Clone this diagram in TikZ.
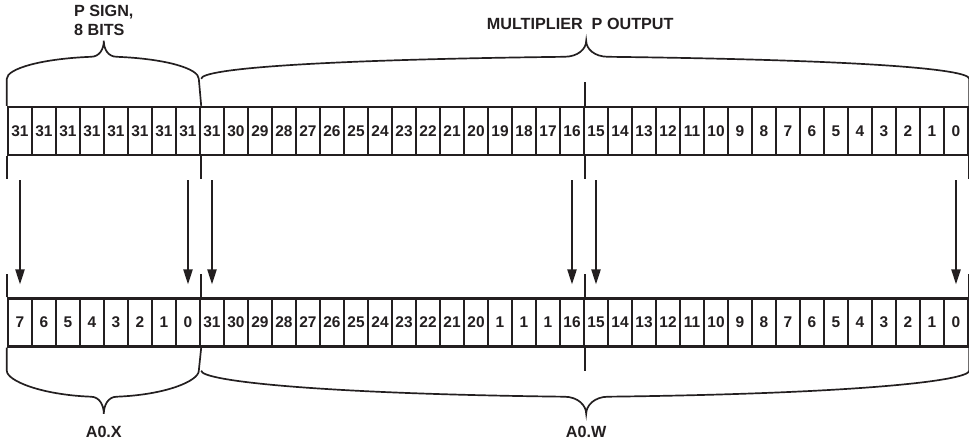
\documentclass[tikz,border=0pt]{standalone}
\usepackage{fontspec}
\setmainfont{Liberation Sans}
\usetikzlibrary{arrows.meta,positioning}

\definecolor{ink}{RGB}{35,31,32}

\tikzset{
  bitcell/.style={draw=ink, line width=1.7pt, minimum width=0.6cm, minimum height=1.2cm,
    inner sep=0pt, text=ink, font=\fontsize{11}{13}\selectfont\bfseries},
  brc/.style={draw=ink, line width=1.2pt},
  tick/.style={draw=ink, line width=1.7pt},
  arr/.style={draw=ink, line width=1.4pt, -{Triangle[length=0.375cm,width=0.23cm]},
    shorten <=0.6cm, shorten >=0.325cm},
  lbl/.style={inner sep=0pt, align=left, text=ink, font=\fontsize{11.5}{13.5}\selectfont\bfseries},
}

\begin{document}
\begin{tikzpicture}[x=0.025cm, y=0.025cm]
\path[fill=white, use as bounding box] (0,0) rectangle (969,-440);

% multiplier P, sign extended
\foreach \v [count=\i] in {31,31,31,31,31,31,31,31,31,30,29,28,27,26,25,24,23,22,21,20,19,18,17,16,15,14,13,12,11,10,9,8,7,6,5,4,3,2,1,0}
  \node (t\i) at (24*\i-4, -131) [bitcell] {\v};

% accumulator A0 (X and W)
\foreach \v [count=\i] in {7,6,5,4,3,2,1,0,31,30,29,28,27,26,25,24,23,22,21,20,1,1,1,16,15,14,13,12,11,10,9,8,7,6,5,4,3,2,1,0}
  \node (b\i) at (24*\i-4, -322.5) [bitcell] {\v};

% braces above
\draw[brc] (t1.north west) -- ++(0,27)
  .. controls +(0,10) and +(-50,-2) .. ++(84,22)
  .. controls +(9,0) and +(0,-8) .. ++(13,16) coordinate (sgn)
  .. controls +(0,-8) and +(-9,0) .. ++(13,-16)
  .. controls +(50,-2) and +(0,10) .. ++(82,-22) -- (t8.north east);
\draw[brc] (t8.north east) ++(0,27)
  .. controls +(0,10) and +(-250,-3) .. ++(363,22)
  .. controls +(14,0) and +(0,-8) .. ++(22,16) coordinate (mul)
  .. controls +(0,-8) and +(-14,0) .. ++(22,-16)
  .. controls +(250,-3) and +(0,10) .. ++(361,-22) -- (t40.north east);
\draw[tick] (t24.north east) -- ++(0,24);

% braces below
\draw[brc] (b1.south west) -- ++(0,-23)
  .. controls +(0,-10) and +(-50,2) .. ++(84,-26)
  .. controls +(9,0) and +(0,8) .. ++(13,-17) coordinate (axx)
  .. controls +(0,8) and +(-9,0) .. ++(13,17)
  .. controls +(50,2) and +(0,-10) .. ++(82,26) -- (b8.south east);
\draw[brc] (b8.south east) ++(0,-23)
  .. controls +(0,-10) and +(-250,3) .. ++(363,-26)
  .. controls +(14,0) and +(0,8) .. ++(22,-17) coordinate (axw)
  .. controls +(0,8) and +(-14,0) .. ++(22,17)
  .. controls +(250,3) and +(0,-10) .. ++(361,26) -- (b40.south east);
\draw[tick] (b24.south east) -- ++(0,-23);

% field boundaries between the rows
\foreach \n/\a in {t1/south west, t8/south east, t24/south east, t40/south east}
  \draw[tick] (\n.\a) -- ++(0,-23);
\foreach \n/\a in {b1/north west, b8/north east, b24/north east, b40/north east}
  \draw[tick] (\n.\a) -- ++(0,23);

% bit moves
\foreach \i in {1,8,9,24,25,40}
  \draw[arr] (t\i.south) -- (b\i.north);

\node[lbl, above=0.125cm of sgn] {P SIGN,\\8 BITS};
\node[lbl, above=0.26cm of mul, xshift=-0.15cm] {MULTIPLIER\ \ P OUTPUT};
\node[lbl, below=0.3cm of axx] {A0.X};
\node[lbl, below=0.3cm of axw] {A0.W};
\end{tikzpicture}
\end{document}
